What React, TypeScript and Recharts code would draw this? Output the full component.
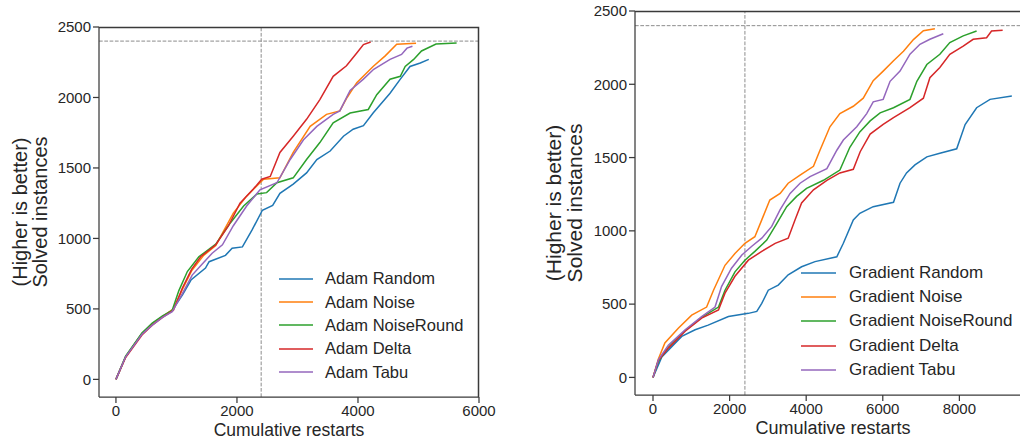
import { LineChart, Line, XAxis, YAxis, ReferenceLine, Legend } from "recharts";

type Pt = [number, number];

const FONT = "'Liberation Sans', Arial, sans-serif";
const INK = "#262626";
const SPINE = "#3a3a3a";
const Y_AXIS_W = 60;
const X_AXIS_H = 40;
const CHART_H = 444;

const colors = ["#1f77b4", "#ff7f0e", "#2ca02c", "#d62728", "#9467bd"];
const adamNames = ["Adam Random", "Adam Noise", "Adam NoiseRound", "Adam Delta", "Adam Tabu"];
const gradientNames = ["Gradient Random", "Gradient Noise", "Gradient NoiseRound", "Gradient Delta", "Gradient Tabu"];

const leftXTicks = [0, 2000, 4000, 6000];
const rightXTicks = [0, 2000, 4000, 6000, 8000];
const yTicks = [0, 500, 1000, 1500, 2000, 2500];
const solvedLine = 2400; // horizontal + vertical dashed guides

// [cumulative restarts, solved instances]
const adamRandom: Pt[] = [[0, 0], [160, 160], [430, 325], [600, 395], [770, 445], [930, 490], [1100, 600], [1240, 705], [1480, 790], [1540, 835], [1810, 880], [1920, 930], [2090, 940], [2250, 1060], [2420, 1200], [2590, 1235], [2710, 1320], [2930, 1385], [3150, 1465], [3320, 1560], [3540, 1620], [3760, 1725], [3920, 1775], [4090, 1800], [4250, 1890], [4530, 2030], [4700, 2130], [4860, 2220], [5030, 2245], [5170, 2270]];
const adamNoise: Pt[] = [[0, 0], [160, 160], [430, 325], [600, 390], [770, 445], [950, 500], [1100, 640], [1250, 770], [1450, 880], [1650, 950], [1940, 1180], [2160, 1300], [2440, 1420], [2710, 1430], [2930, 1610], [3210, 1795], [3480, 1880], [3700, 1905], [3820, 2000], [3980, 2105], [4250, 2220], [4450, 2295], [4640, 2377], [4960, 2384]];
const adamNoiseRound: Pt[] = [[0, 0], [160, 165], [430, 330], [600, 400], [770, 450], [930, 490], [1040, 630], [1180, 765], [1370, 870], [1480, 905], [1650, 960], [1890, 1110], [2110, 1230], [2330, 1315], [2490, 1325], [2660, 1395], [2930, 1430], [3150, 1560], [3370, 1680], [3590, 1820], [3870, 1890], [4170, 1915], [4310, 2020], [4530, 2130], [4700, 2150], [4780, 2220], [4920, 2270], [5050, 2330], [5290, 2379], [5630, 2386]];
const adamDelta: Pt[] = [[0, 0], [160, 155], [430, 315], [600, 385], [770, 440], [950, 490], [1100, 650], [1250, 780], [1400, 870], [1650, 955], [1860, 1090], [2050, 1250], [2270, 1350], [2410, 1420], [2550, 1440], [2710, 1610], [2930, 1725], [3150, 1845], [3370, 1985], [3590, 2150], [3810, 2225], [3980, 2315], [4090, 2375], [4210, 2393]];
const adamTabu: Pt[] = [[0, 0], [160, 160], [430, 320], [600, 385], [770, 440], [930, 480], [1100, 610], [1260, 740], [1430, 820], [1590, 895], [1760, 955], [1940, 1090], [2160, 1230], [2380, 1345], [2660, 1395], [2880, 1560], [3100, 1700], [3320, 1795], [3590, 1880], [3700, 1905], [3870, 2050], [4090, 2130], [4260, 2200], [4530, 2270], [4720, 2305], [4810, 2350], [4900, 2364]];

const gradRandom: Pt[] = [[0, 0], [230, 140], [490, 210], [750, 280], [1100, 325], [1440, 357], [1970, 415], [2490, 437], [2710, 450], [2840, 505], [3010, 595], [3270, 630], [3530, 700], [3880, 755], [4230, 790], [4800, 823], [4970, 915], [5230, 1075], [5400, 1120], [5750, 1165], [6280, 1195], [6450, 1325], [6620, 1395], [6840, 1450], [7150, 1505], [7490, 1530], [7930, 1560], [8150, 1725], [8450, 1840], [8800, 1897], [9370, 1920]];
const gradNoise: Pt[] = [[0, 0], [140, 125], [310, 235], [660, 335], [1010, 425], [1400, 480], [1580, 595], [1880, 765], [2140, 845], [2400, 915], [2660, 960], [2840, 1075], [3050, 1210], [3320, 1255], [3530, 1325], [3840, 1380], [4190, 1440], [4360, 1550], [4620, 1710], [4880, 1800], [5230, 1850], [5490, 1905], [5750, 2025], [6010, 2090], [6280, 2160], [6540, 2225], [6800, 2305], [7060, 2365], [7360, 2379]];
const gradNoiseRound: Pt[] = [[0, 0], [140, 110], [400, 205], [840, 320], [1270, 410], [1710, 480], [1880, 595], [2140, 720], [2400, 800], [2660, 860], [2970, 937], [3230, 1050], [3490, 1165], [3750, 1235], [4010, 1290], [4450, 1345], [4880, 1415], [5140, 1570], [5400, 1675], [5670, 1750], [5930, 1805], [6280, 1840], [6710, 1897], [6890, 2020], [7150, 2135], [7490, 2205], [7750, 2285], [8100, 2330], [8450, 2364]];
const gradDelta: Pt[] = [[0, 0], [140, 115], [400, 200], [840, 315], [1270, 405], [1710, 460], [1880, 575], [2140, 690], [2490, 800], [2840, 860], [3190, 915], [3530, 950], [3710, 1075], [3880, 1190], [4190, 1280], [4540, 1345], [4880, 1395], [5230, 1420], [5410, 1540], [5670, 1660], [6010, 1727], [6280, 1772], [6710, 1840], [7060, 1905], [7230, 2045], [7490, 2115], [7750, 2205], [8100, 2260], [8360, 2307], [8710, 2318], [8840, 2364], [9130, 2368]];
const gradTabu: Pt[] = [[0, 0], [140, 120], [400, 220], [840, 325], [1270, 415], [1620, 480], [1790, 620], [2050, 745], [2320, 835], [2580, 895], [2840, 950], [3100, 1030], [3320, 1145], [3580, 1255], [3840, 1325], [4100, 1370], [4540, 1425], [4800, 1550], [4970, 1620], [5320, 1710], [5580, 1800], [5750, 1880], [6010, 1897], [6190, 2020], [6450, 2090], [6710, 2205], [6970, 2273], [7230, 2307], [7580, 2345]];

const toRows = (pts: Pt[]) => pts.map(([x, y]) => ({ x, y }));

const yTitle = (dx1: number, dx2: number, size: number) => (props: any) => {
  const vb = props.viewBox;
  const cy = vb.y + vb.height / 2;
  const x1 = vb.x + dx1;
  const x2 = vb.x + dx2;
  const common = { textAnchor: "middle" as const, dominantBaseline: "central" as const, fontSize: size, fontFamily: FONT, fill: INK };
  return (
    <g>
      <text x={x1} y={cy} transform={`rotate(-90 ${x1} ${cy})`} {...common}>(Higher is better)</text>
      <text x={x2} y={cy} transform={`rotate(-90 ${x2} ${cy})`} {...common}>Solved instances</text>
    </g>
  );
};

const xTitle = (dy: number, size: number) => (props: any) => {
  const vb = props.viewBox;
  return (
    <text x={vb.x + vb.width / 2} y={vb.y + dy} textAnchor="middle" dominantBaseline="central" fontSize={size} fontFamily={FONT} fill={INK}>
      Cumulative restarts
    </text>
  );
};

// legend drawn in series order (recharts would sort by name otherwise)
const legendBox = (names: string[], rowH: number, lineW: number, gap: number, size: number) => () => (
  <div>
    {names.map((name, i) => (
      <div key={name} style={{ display: "flex", alignItems: "center", height: rowH }}>
        <svg width={lineW} height={4} style={{ display: "block" }}>
          <line x1={0} y1={2} x2={lineW} y2={2} stroke={colors[i]} strokeWidth={1.5} />
        </svg>
        <span style={{ marginLeft: gap, fontSize: size, fontFamily: FONT, color: INK, whiteSpace: "nowrap" }}>{name}</span>
      </div>
    ))}
  </div>
);

type Margin = { top: number; right: number; bottom: number; left: number };

type PanelProps = {
  left: number;
  width: number;
  margin: Margin;
  xDomain: [number, number];
  yDomain: [number, number];
  xTicks: number[];
  names: string[];
  series: Pt[][];
  legendAt: { left: number; top: number };
  legendRow: number;
  legendLine: number;
  legendGap: number;
  legendSize: number;
  yTitleDx: [number, number];
  yTitleSize: number;
  xTitleSize: number;
};

const spine = { stroke: SPINE, strokeWidth: 1.25 };

const Panel = (p: PanelProps) => (
  <div style={{ position: "absolute", left: p.left, top: 0, width: p.width, height: CHART_H }}>
    <LineChart width={p.width} height={CHART_H} margin={p.margin}>
      <XAxis
        type="number"
        dataKey="x"
        domain={p.xDomain}
        ticks={p.xTicks}
        allowDataOverflow
        height={X_AXIS_H}
        tickSize={6}
        axisLine={spine}
        tickLine={spine}
        tick={{ fontSize: 15, fill: INK, fontFamily: FONT }}
        label={xTitle(33, p.xTitleSize)}
      />
      <YAxis
        type="number"
        dataKey="y"
        domain={p.yDomain}
        ticks={yTicks}
        allowDataOverflow
        width={Y_AXIS_W}
        tickSize={6}
        axisLine={spine}
        tickLine={spine}
        tick={{ fontSize: 15, fill: INK, fontFamily: FONT }}
        label={yTitle(p.yTitleDx[0], p.yTitleDx[1], p.yTitleSize)}
      />
      <ReferenceLine y={solvedLine} stroke="#8c8c8c" strokeWidth={1} strokeDasharray="3.7 1.6" />
      <ReferenceLine x={solvedLine} stroke="#8c8c8c" strokeWidth={1} strokeDasharray="3.7 1.6" />
      {p.series.map((s, i) => (
        <Line
          key={p.names[i]}
          data={toRows(s)}
          dataKey="y"
          name={p.names[i]}
          type="linear"
          stroke={colors[i]}
          strokeWidth={1.5}
          dot={false}
          activeDot={false}
          isAnimationActive={false}
        />
      ))}
      <Legend
        layout="vertical"
        align="center"
        verticalAlign="middle"
        wrapperStyle={{ left: p.legendAt.left, top: p.legendAt.top, width: "auto", height: "auto" }}
        content={legendBox(p.names, p.legendRow, p.legendLine, p.legendGap, p.legendSize)}
      />
    </LineChart>
  </div>
);

// page-level box of a panel's plot area (for the top/right spines)
const plotBox = (left: number, width: number, m: Margin) => ({
  x0: left + m.left + Y_AXIS_W,
  x1: left + width - m.right,
  y0: m.top,
  y1: CHART_H - m.bottom - X_AXIS_H,
});

const leftPanel = { left: 0, width: 505, margin: { top: 27, right: 26, bottom: 7, left: 39 } };
const rightPanel = { left: 520, width: 520, margin: { top: 11, right: 9, bottom: 9, left: 55 } };

export default function App() {
  const a = plotBox(leftPanel.left, leftPanel.width, leftPanel.margin);
  const b = plotBox(rightPanel.left, rightPanel.width, rightPanel.margin);
  return (
    <div style={{ position: "absolute", left: 0, top: 0, width: 1020, height: 444, overflow: "hidden", background: "#fff" }}>
      <Panel
        {...leftPanel}
        xDomain={[-280, 6000]}
        yDomain={[-125, 2500]}
        xTicks={leftXTicks}
        names={adamNames}
        series={[adamRandom, adamNoise, adamNoiseRound, adamDelta, adamTabu]}
        legendAt={{ left: 279, top: 267 }}
        legendRow={23.4}
        legendLine={34}
        legendGap={12}
        legendSize={16.5}
        yTitleDx={[-19, 1]}
        yTitleSize={20}
        xTitleSize={17.5}
      />
      <Panel
        {...rightPanel}
        xDomain={[-470, 9870]}
        yDomain={[-120, 2500]}
        xTicks={rightXTicks}
        names={gradientNames}
        series={[gradRandom, gradNoise, gradNoiseRound, gradDelta, gradTabu]}
        legendAt={{ left: 281, top: 261 }}
        legendRow={24.2}
        legendLine={35}
        legendGap={13}
        legendSize={17}
        yTitleDx={[-22, -1]}
        yTitleSize={21}
        xTitleSize={18}
      />
      <svg width={1020} height={444} style={{ position: "absolute", left: 0, top: 0, zIndex: 10, pointerEvents: "none" }}>
        <path d={`M${a.x0},${a.y0 + 0.5} H${a.x1 - 0.5} V${a.y1}`} fill="none" stroke={SPINE} strokeWidth={1.5} />
        <path d={`M${b.x0},${b.y0 + 0.5} H${b.x1 - 0.5} V${b.y1}`} fill="none" stroke={SPINE} strokeWidth={1.5} />
      </svg>
    </div>
  );
}
